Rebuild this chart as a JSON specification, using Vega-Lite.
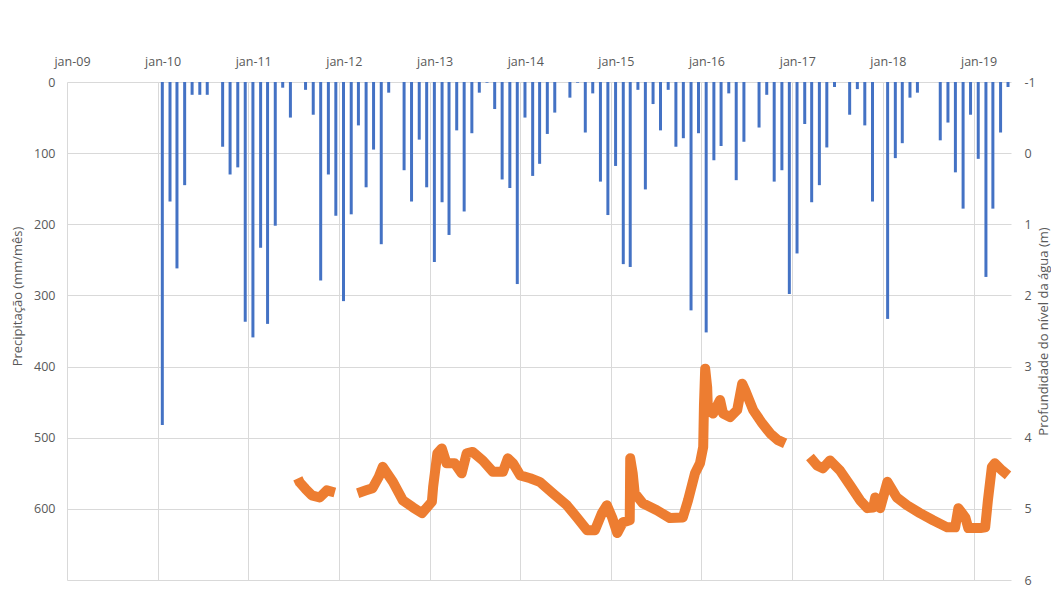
{
  "$schema": "https://vega.github.io/schema/vega-lite/v6.json",
  "autosize": "none",
  "width": 944,
  "height": 498,
  "padding": {"left": 67, "top": 82, "right": 40, "bottom": 24},
  "background": "white",
  "config": {
    "font": "Open Sans",
    "view": {"stroke": null},
    "axis": {
      "labelColor": "#595959",
      "titleColor": "#595959",
      "labelFontSize": 12.5,
      "titleFontSize": 13,
      "titleFontWeight": "normal",
      "gridColor": "#d9d9d9",
      "gridWidth": 1,
      "domain": false,
      "ticks": false
    }
  },
  "datasets": {
    "bars": [
      {"date": "2010-01-20", "precip": 482}, {"date": "2010-02-20", "precip": 168}, {"date": "2010-03-20", "precip": 262}, {"date": "2010-04-20", "precip": 145}, {"date": "2010-05-20", "precip": 18}, {"date": "2010-06-20", "precip": 18}, {"date": "2010-07-20", "precip": 18}, {"date": "2010-08-20", "precip": 0}, {"date": "2010-09-20", "precip": 91}, {"date": "2010-10-20", "precip": 130}, {"date": "2010-11-20", "precip": 120}, {"date": "2010-12-20", "precip": 337},
      {"date": "2011-01-20", "precip": 359}, {"date": "2011-02-20", "precip": 233}, {"date": "2011-03-20", "precip": 340}, {"date": "2011-04-20", "precip": 202}, {"date": "2011-05-20", "precip": 8}, {"date": "2011-06-20", "precip": 50}, {"date": "2011-07-20", "precip": 0}, {"date": "2011-08-20", "precip": 11}, {"date": "2011-09-20", "precip": 46}, {"date": "2011-10-20", "precip": 279}, {"date": "2011-11-20", "precip": 130}, {"date": "2011-12-20", "precip": 188},
      {"date": "2012-01-20", "precip": 308}, {"date": "2012-02-20", "precip": 186}, {"date": "2012-03-20", "precip": 61}, {"date": "2012-04-20", "precip": 148}, {"date": "2012-05-20", "precip": 95}, {"date": "2012-06-20", "precip": 228}, {"date": "2012-07-20", "precip": 15}, {"date": "2012-08-20", "precip": 0}, {"date": "2012-09-20", "precip": 124}, {"date": "2012-10-20", "precip": 168}, {"date": "2012-11-20", "precip": 81}, {"date": "2012-12-20", "precip": 148},
      {"date": "2013-01-20", "precip": 253}, {"date": "2013-02-20", "precip": 169}, {"date": "2013-03-20", "precip": 215}, {"date": "2013-04-20", "precip": 68}, {"date": "2013-05-20", "precip": 182}, {"date": "2013-06-20", "precip": 72}, {"date": "2013-07-20", "precip": 15}, {"date": "2013-08-20", "precip": 1}, {"date": "2013-09-20", "precip": 38}, {"date": "2013-10-20", "precip": 137}, {"date": "2013-11-20", "precip": 149}, {"date": "2013-12-20", "precip": 284},
      {"date": "2014-01-20", "precip": 50}, {"date": "2014-02-20", "precip": 132}, {"date": "2014-03-20", "precip": 115}, {"date": "2014-04-20", "precip": 73}, {"date": "2014-05-20", "precip": 43}, {"date": "2014-06-20", "precip": 0}, {"date": "2014-07-20", "precip": 22}, {"date": "2014-08-20", "precip": 1}, {"date": "2014-09-20", "precip": 71}, {"date": "2014-10-20", "precip": 16}, {"date": "2014-11-20", "precip": 140}, {"date": "2014-12-20", "precip": 187},
      {"date": "2015-01-20", "precip": 118}, {"date": "2015-02-20", "precip": 256}, {"date": "2015-03-20", "precip": 260}, {"date": "2015-04-20", "precip": 11}, {"date": "2015-05-20", "precip": 151}, {"date": "2015-06-20", "precip": 31}, {"date": "2015-07-20", "precip": 68}, {"date": "2015-08-20", "precip": 11}, {"date": "2015-09-20", "precip": 91}, {"date": "2015-10-20", "precip": 79}, {"date": "2015-11-20", "precip": 321}, {"date": "2015-12-20", "precip": 72},
      {"date": "2016-01-20", "precip": 352}, {"date": "2016-02-20", "precip": 110}, {"date": "2016-03-20", "precip": 90}, {"date": "2016-04-20", "precip": 16}, {"date": "2016-05-20", "precip": 138}, {"date": "2016-06-20", "precip": 84}, {"date": "2016-07-20", "precip": 0}, {"date": "2016-08-20", "precip": 64}, {"date": "2016-09-20", "precip": 18}, {"date": "2016-10-20", "precip": 140}, {"date": "2016-11-20", "precip": 124}, {"date": "2016-12-20", "precip": 298},
      {"date": "2017-01-20", "precip": 241}, {"date": "2017-02-20", "precip": 59}, {"date": "2017-03-20", "precip": 169}, {"date": "2017-04-20", "precip": 145}, {"date": "2017-05-20", "precip": 92}, {"date": "2017-06-20", "precip": 7}, {"date": "2017-07-20", "precip": 0}, {"date": "2017-08-20", "precip": 46}, {"date": "2017-09-20", "precip": 10}, {"date": "2017-10-20", "precip": 61}, {"date": "2017-11-20", "precip": 168}, {"date": "2017-12-20", "precip": 0},
      {"date": "2018-01-20", "precip": 333}, {"date": "2018-02-20", "precip": 107}, {"date": "2018-03-20", "precip": 86}, {"date": "2018-04-20", "precip": 22}, {"date": "2018-05-20", "precip": 15}, {"date": "2018-06-20", "precip": 0}, {"date": "2018-07-20", "precip": 0}, {"date": "2018-08-20", "precip": 82}, {"date": "2018-09-20", "precip": 57}, {"date": "2018-10-20", "precip": 127}, {"date": "2018-11-20", "precip": 178}, {"date": "2018-12-20", "precip": 46},
      {"date": "2019-01-20", "precip": 108}, {"date": "2019-02-20", "precip": 274}, {"date": "2019-03-20", "precip": 178}, {"date": "2019-04-20", "precip": 71}, {"date": "2019-05-20", "precip": 7}
    ],
    "level": [
      {"date": "2011-07-20", "depth": 4.57, "seg": 1}, {"date": "2011-07-28", "depth": 4.63, "seg": 1}, {"date": "2011-08-20", "depth": 4.72, "seg": 1}, {"date": "2011-09-14", "depth": 4.81, "seg": 1}, {"date": "2011-10-16", "depth": 4.84, "seg": 1}, {"date": "2011-11-14", "depth": 4.74, "seg": 1}, {"date": "2011-12-16", "depth": 4.77, "seg": 1},
      {"date": "2012-03-17", "depth": 4.78, "seg": 2}, {"date": "2012-04-20", "depth": 4.74, "seg": 2}, {"date": "2012-05-16", "depth": 4.71, "seg": 2}, {"date": "2012-06-10", "depth": 4.55, "seg": 2}, {"date": "2012-06-26", "depth": 4.41, "seg": 2}, {"date": "2012-08-06", "depth": 4.62, "seg": 2}, {"date": "2012-09-15", "depth": 4.88, "seg": 2}, {"date": "2012-10-26", "depth": 4.98, "seg": 2}, {"date": "2012-12-01", "depth": 5.06, "seg": 2}, {"date": "2012-12-21", "depth": 4.98, "seg": 2}, {"date": "2013-01-10", "depth": 4.90, "seg": 2}, {"date": "2013-01-15", "depth": 4.69, "seg": 2}, {"date": "2013-02-01", "depth": 4.22, "seg": 2}, {"date": "2013-02-19", "depth": 4.15, "seg": 2}, {"date": "2013-03-10", "depth": 4.36, "seg": 2}, {"date": "2013-04-12", "depth": 4.36, "seg": 2}, {"date": "2013-05-10", "depth": 4.50, "seg": 2}, {"date": "2013-05-30", "depth": 4.22, "seg": 2}, {"date": "2013-06-23", "depth": 4.20, "seg": 2}, {"date": "2013-08-03", "depth": 4.32, "seg": 2}, {"date": "2013-09-13", "depth": 4.48, "seg": 2}, {"date": "2013-10-23", "depth": 4.48, "seg": 2}, {"date": "2013-11-12", "depth": 4.29, "seg": 2}, {"date": "2013-12-03", "depth": 4.36, "seg": 2}, {"date": "2014-01-01", "depth": 4.53, "seg": 2}, {"date": "2014-02-10", "depth": 4.57, "seg": 2}, {"date": "2014-03-20", "depth": 4.62, "seg": 2}, {"date": "2014-05-12", "depth": 4.78, "seg": 2}, {"date": "2014-07-08", "depth": 4.95, "seg": 2}, {"date": "2014-08-17", "depth": 5.12, "seg": 2}, {"date": "2014-09-27", "depth": 5.30, "seg": 2}, {"date": "2014-10-29", "depth": 5.30, "seg": 2}, {"date": "2014-11-26", "depth": 5.06, "seg": 2}, {"date": "2014-12-16", "depth": 4.95, "seg": 2}, {"date": "2015-01-06", "depth": 5.12, "seg": 2}, {"date": "2015-01-27", "depth": 5.34, "seg": 2}, {"date": "2015-02-18", "depth": 5.19, "seg": 2}, {"date": "2015-03-18", "depth": 5.16, "seg": 2}, {"date": "2015-03-20", "depth": 4.29, "seg": 2}, {"date": "2015-03-30", "depth": 4.50, "seg": 2}, {"date": "2015-04-07", "depth": 4.78, "seg": 2}, {"date": "2015-05-09", "depth": 4.92, "seg": 2}, {"date": "2015-07-05", "depth": 5.02, "seg": 2}, {"date": "2015-08-27", "depth": 5.13, "seg": 2}, {"date": "2015-10-18", "depth": 5.12, "seg": 2}, {"date": "2015-11-08", "depth": 4.88, "seg": 2}, {"date": "2015-12-06", "depth": 4.50, "seg": 2}, {"date": "2015-12-26", "depth": 4.36, "seg": 2}, {"date": "2016-01-08", "depth": 4.13, "seg": 2}, {"date": "2016-01-11", "depth": 3.55, "seg": 2}, {"date": "2016-01-16", "depth": 3.03, "seg": 2}, {"date": "2016-01-24", "depth": 3.29, "seg": 2}, {"date": "2016-01-27", "depth": 3.61, "seg": 2}, {"date": "2016-02-17", "depth": 3.66, "seg": 2}, {"date": "2016-03-16", "depth": 3.47, "seg": 2}, {"date": "2016-03-28", "depth": 3.66, "seg": 2}, {"date": "2016-04-25", "depth": 3.71, "seg": 2}, {"date": "2016-05-24", "depth": 3.61, "seg": 2}, {"date": "2016-06-13", "depth": 3.24, "seg": 2}, {"date": "2016-06-25", "depth": 3.33, "seg": 2}, {"date": "2016-07-27", "depth": 3.61, "seg": 2}, {"date": "2016-09-02", "depth": 3.80, "seg": 2}, {"date": "2016-10-04", "depth": 3.94, "seg": 2}, {"date": "2016-11-02", "depth": 4.03, "seg": 2}, {"date": "2016-12-03", "depth": 4.08, "seg": 2},
      {"date": "2017-03-13", "depth": 4.27, "seg": 3}, {"date": "2017-04-11", "depth": 4.39, "seg": 3}, {"date": "2017-05-04", "depth": 4.43, "seg": 3}, {"date": "2017-06-02", "depth": 4.32, "seg": 3}, {"date": "2017-07-12", "depth": 4.46, "seg": 3}, {"date": "2017-08-22", "depth": 4.67, "seg": 3}, {"date": "2017-10-01", "depth": 4.88, "seg": 3}, {"date": "2017-10-30", "depth": 4.99, "seg": 3}, {"date": "2017-11-23", "depth": 4.98, "seg": 3}, {"date": "2017-12-01", "depth": 4.84, "seg": 3}, {"date": "2017-12-21", "depth": 4.99, "seg": 3}, {"date": "2018-01-19", "depth": 4.62, "seg": 3}, {"date": "2018-02-26", "depth": 4.84, "seg": 3}, {"date": "2018-04-08", "depth": 4.95, "seg": 3}, {"date": "2018-05-30", "depth": 5.06, "seg": 3}, {"date": "2018-07-22", "depth": 5.16, "seg": 3}, {"date": "2018-09-17", "depth": 5.26, "seg": 3}, {"date": "2018-10-19", "depth": 5.26, "seg": 3}, {"date": "2018-11-01", "depth": 4.99, "seg": 3}, {"date": "2018-11-29", "depth": 5.12, "seg": 3}, {"date": "2018-12-11", "depth": 5.27, "seg": 3}, {"date": "2019-01-29", "depth": 5.27, "seg": 3}, {"date": "2019-02-17", "depth": 5.26, "seg": 3}, {"date": "2019-02-28", "depth": 4.88, "seg": 3}, {"date": "2019-03-16", "depth": 4.41, "seg": 3}, {"date": "2019-03-28", "depth": 4.36, "seg": 3}, {"date": "2019-04-26", "depth": 4.46, "seg": 3}, {"date": "2019-05-20", "depth": 4.53, "seg": 3}
    ]
  },
  "encoding": {
    "x": {
      "field": "date",
      "type": "temporal",
      "scale": {"domain": [{"year": 2009, "month": 1, "date": 1}, {"year": 2019, "month": 6, "date": 1}], "padding": 0, "nice": false},
      "axis": {
        "orient": "top",
        "title": null,
        "grid": true,
        "tickCount": {"interval": "year", "step": 1},
        "labelExpr": "lower(timeFormat(datum.value, '%b-%y'))",
        "labelFlush": false,
        "labelOverlap": false,
        "labelOffset": 5,
        "labelPadding": 14
      }
    }
  },
  "layer": [
    {
      "data": {"name": "bars"},
      "mark": {"type": "bar", "width": 3, "color": "#4472C4"},
      "encoding": {
        "y": {
          "field": "precip",
          "type": "quantitative",
          "scale": {"domain": [0, 700], "reverse": true, "nice": false},
          "axis": {
            "orient": "left",
            "values": [0, 100, 200, 300, 400, 500, 600, 700],
            "labelExpr": "datum.value == 700 ? '' : datum.label",
            "grid": true,
            "labelPadding": 12,
            "title": "Precipitação (mm/mês)",
            "titleX": -50,
            "titleY": 214,
            "titleAngle": 270,
            "titleAlign": "center",
            "titleBaseline": "middle"
          }
        }
      }
    },
    {
      "data": {"name": "level"},
      "mark": {"type": "line", "color": "#ED7D31", "strokeWidth": 10, "strokeJoin": "round"},
      "encoding": {
        "detail": {"field": "seg", "type": "nominal"},
        "y": {
          "field": "depth",
          "type": "quantitative",
          "scale": {"domain": [-1, 6], "reverse": true, "nice": false, "zero": false},
          "axis": {
            "orient": "right",
            "values": [-1, 0, 1, 2, 3, 4, 5, 6],
            "labelExpr": "toString(datum.value)",
            "grid": false,
            "labelPadding": 13,
            "title": "Profundidade do nível da água (m)",
            "titleX": 32,
            "titleAngle": 270,
            "titleAlign": "center",
            "titleBaseline": "middle"
          }
        }
      }
    }
  ],
  "resolve": {"scale": {"y": "independent"}}
}
